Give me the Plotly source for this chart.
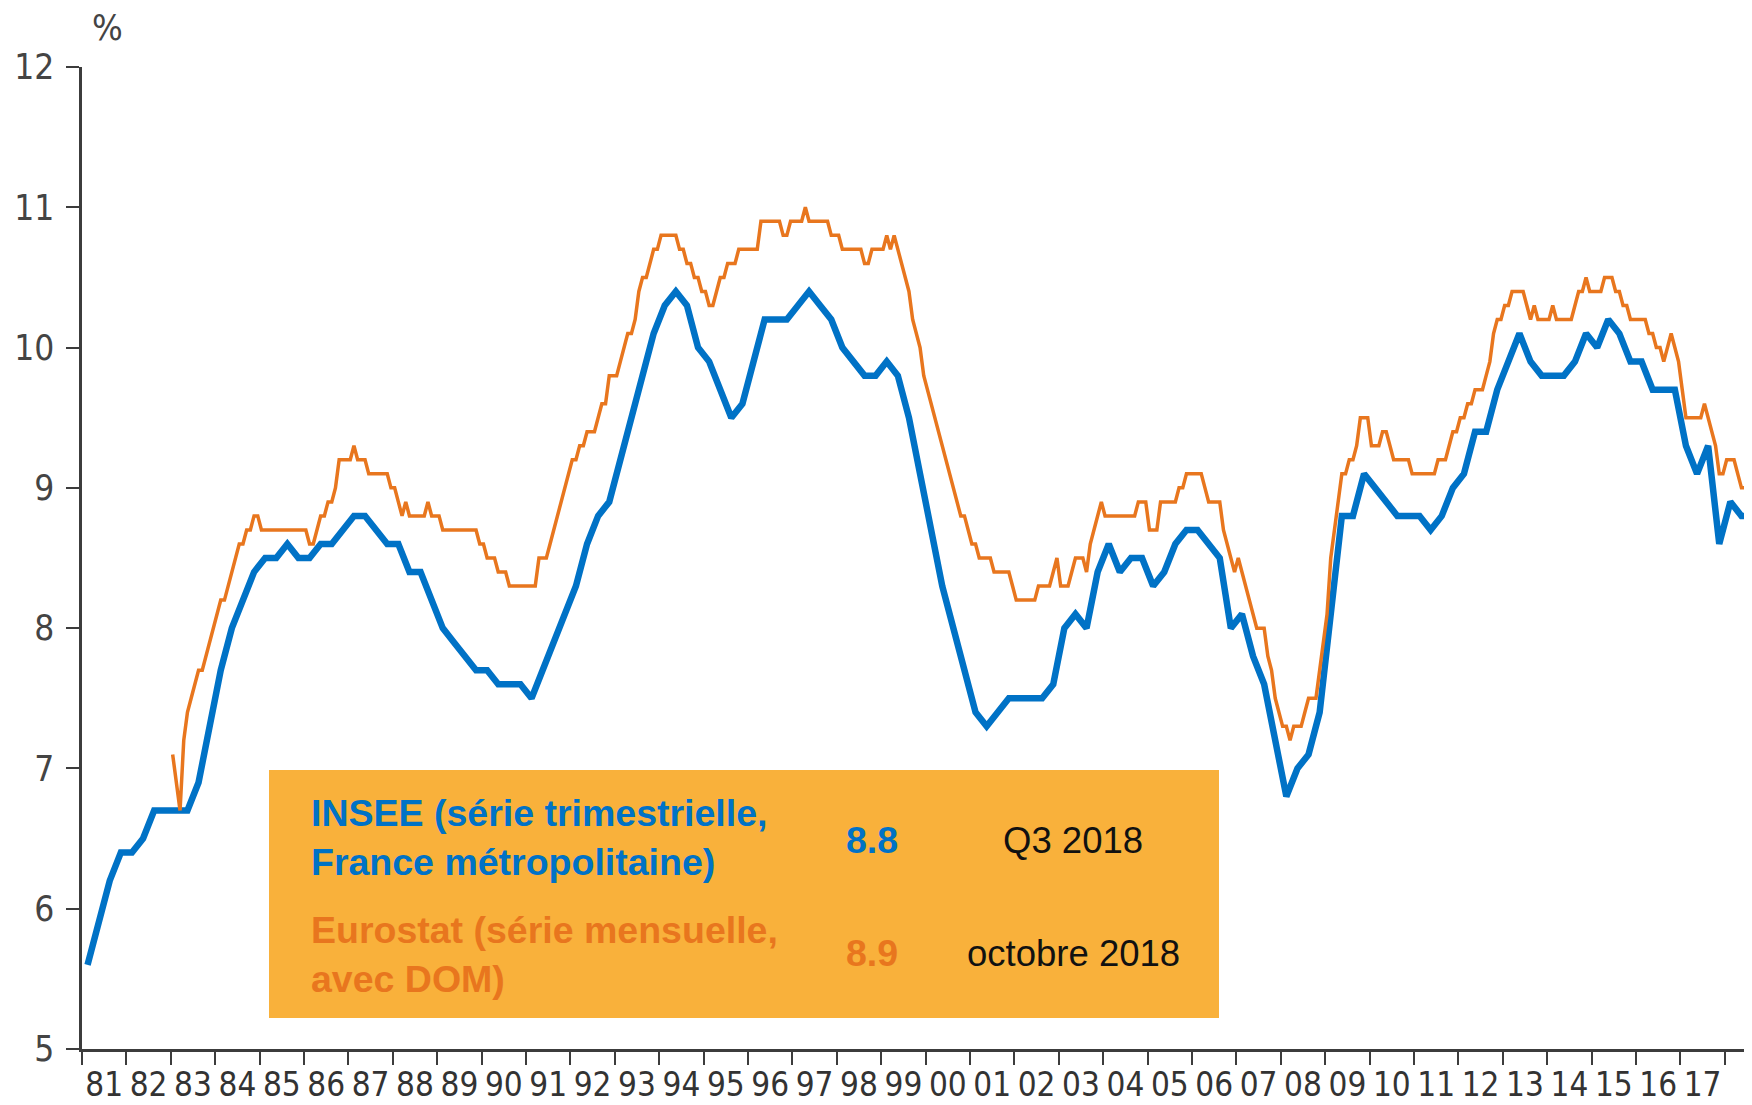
import plotly.graph_objects as go

# ---------------- data ----------------
# INSEE, quarterly, France métropolitaine, from 1981 Q1 to 2018 Q3
insee_start_year = 1981
insee_rate = [
    5.6, 5.9, 6.2, 6.4,      # 1981
    6.4, 6.5, 6.7, 6.7,      # 1982
    6.7, 6.7, 6.9, 7.3,      # 1983
    7.7, 8.0, 8.2, 8.4,      # 1984
    8.5, 8.5, 8.6, 8.5,      # 1985
    8.5, 8.6, 8.6, 8.7,      # 1986
    8.8, 8.8, 8.7, 8.6,      # 1987
    8.6, 8.4, 8.4, 8.2,      # 1988
    8.0, 7.9, 7.8, 7.7,      # 1989
    7.7, 7.6, 7.6, 7.6,      # 1990
    7.5, 7.7, 7.9, 8.1,      # 1991
    8.3, 8.6, 8.8, 8.9,      # 1992
    9.2, 9.5, 9.8, 10.1,     # 1993
    10.3, 10.4, 10.3, 10.0,  # 1994
    9.9, 9.7, 9.5, 9.6,      # 1995
    9.9, 10.2, 10.2, 10.2,   # 1996
    10.3, 10.4, 10.3, 10.2,  # 1997
    10.0, 9.9, 9.8, 9.8,     # 1998
    9.9, 9.8, 9.5, 9.1,      # 1999
    8.7, 8.3, 8.0, 7.7,      # 2000
    7.4, 7.3, 7.4, 7.5,      # 2001
    7.5, 7.5, 7.5, 7.6,      # 2002
    8.0, 8.1, 8.0, 8.4,      # 2003
    8.6, 8.4, 8.5, 8.5,      # 2004
    8.3, 8.4, 8.6, 8.7,      # 2005
    8.7, 8.6, 8.5, 8.0,      # 2006
    8.1, 7.8, 7.6, 7.2,      # 2007
    6.8, 7.0, 7.1, 7.4,      # 2008
    8.1, 8.8, 8.8, 9.1,      # 2009
    9.0, 8.9, 8.8, 8.8,      # 2010
    8.8, 8.7, 8.8, 9.0,      # 2011
    9.1, 9.4, 9.4, 9.7,      # 2012
    9.9, 10.1, 9.9, 9.8,     # 2013
    9.8, 9.8, 9.9, 10.1,     # 2014
    10.0, 10.2, 10.1, 9.9,   # 2015
    9.9, 9.7, 9.7, 9.7,      # 2016
    9.3, 9.1, 9.3, 8.6,      # 2017
    8.9, 8.8, 8.8,           # 2018
]

# Eurostat, monthly, with DOM, from January 1983 to October 2018
eurostat_start_year = 1983
eurostat_rate = [
    7.1, 6.9, 6.7, 7.2, 7.4, 7.5, 7.6, 7.7, 7.7, 7.8, 7.9, 8.0,              # 1983
    8.1, 8.2, 8.2, 8.3, 8.4, 8.5, 8.6, 8.6, 8.7, 8.7, 8.8, 8.8,              # 1984
    8.7, 8.7, 8.7, 8.7, 8.7, 8.7, 8.7, 8.7, 8.7, 8.7, 8.7, 8.7,              # 1985
    8.7, 8.6, 8.6, 8.7, 8.8, 8.8, 8.9, 8.9, 9.0, 9.2, 9.2, 9.2,              # 1986
    9.2, 9.3, 9.2, 9.2, 9.2, 9.1, 9.1, 9.1, 9.1, 9.1, 9.1, 9.0,              # 1987
    9.0, 8.9, 8.8, 8.9, 8.8, 8.8, 8.8, 8.8, 8.8, 8.9, 8.8, 8.8,              # 1988
    8.8, 8.7, 8.7, 8.7, 8.7, 8.7, 8.7, 8.7, 8.7, 8.7, 8.7, 8.6,              # 1989
    8.6, 8.5, 8.5, 8.5, 8.4, 8.4, 8.4, 8.3, 8.3, 8.3, 8.3, 8.3,              # 1990
    8.3, 8.3, 8.3, 8.5, 8.5, 8.5, 8.6, 8.7, 8.8, 8.9, 9.0, 9.1,              # 1991
    9.2, 9.2, 9.3, 9.3, 9.4, 9.4, 9.4, 9.5, 9.6, 9.6, 9.8, 9.8,              # 1992
    9.8, 9.9, 10.0, 10.1, 10.1, 10.2, 10.4, 10.5, 10.5, 10.6, 10.7, 10.7,    # 1993
    10.8, 10.8, 10.8, 10.8, 10.8, 10.7, 10.7, 10.6, 10.6, 10.5, 10.5, 10.4,  # 1994
    10.4, 10.3, 10.3, 10.4, 10.5, 10.5, 10.6, 10.6, 10.6, 10.7, 10.7, 10.7,  # 1995
    10.7, 10.7, 10.7, 10.9, 10.9, 10.9, 10.9, 10.9, 10.9, 10.8, 10.8, 10.9,  # 1996
    10.9, 10.9, 10.9, 11.0, 10.9, 10.9, 10.9, 10.9, 10.9, 10.9, 10.8, 10.8,  # 1997
    10.8, 10.7, 10.7, 10.7, 10.7, 10.7, 10.7, 10.6, 10.6, 10.7, 10.7, 10.7,  # 1998
    10.7, 10.8, 10.7, 10.8, 10.7, 10.6, 10.5, 10.4, 10.2, 10.1, 10.0, 9.8,   # 1999
    9.7, 9.6, 9.5, 9.4, 9.3, 9.2, 9.1, 9.0, 8.9, 8.8, 8.8, 8.7,              # 2000
    8.6, 8.6, 8.5, 8.5, 8.5, 8.5, 8.4, 8.4, 8.4, 8.4, 8.4, 8.3,              # 2001
    8.2, 8.2, 8.2, 8.2, 8.2, 8.2, 8.3, 8.3, 8.3, 8.3, 8.4, 8.5,              # 2002
    8.3, 8.3, 8.3, 8.4, 8.5, 8.5, 8.5, 8.4, 8.6, 8.7, 8.8, 8.9,              # 2003
    8.8, 8.8, 8.8, 8.8, 8.8, 8.8, 8.8, 8.8, 8.8, 8.9, 8.9, 8.9,              # 2004
    8.7, 8.7, 8.7, 8.9, 8.9, 8.9, 8.9, 8.9, 9.0, 9.0, 9.1, 9.1,              # 2005
    9.1, 9.1, 9.1, 9.0, 8.9, 8.9, 8.9, 8.9, 8.7, 8.6, 8.5, 8.4,              # 2006
    8.5, 8.4, 8.3, 8.2, 8.1, 8.0, 8.0, 8.0, 7.8, 7.7, 7.5, 7.4,              # 2007
    7.3, 7.3, 7.2, 7.3, 7.3, 7.3, 7.4, 7.5, 7.5, 7.5, 7.7, 7.9,              # 2008
    8.1, 8.5, 8.7, 8.9, 9.1, 9.1, 9.2, 9.2, 9.3, 9.5, 9.5, 9.5,              # 2009
    9.3, 9.3, 9.3, 9.4, 9.4, 9.3, 9.2, 9.2, 9.2, 9.2, 9.2, 9.1,              # 2010
    9.1, 9.1, 9.1, 9.1, 9.1, 9.1, 9.2, 9.2, 9.2, 9.3, 9.4, 9.4,              # 2011
    9.5, 9.5, 9.6, 9.6, 9.7, 9.7, 9.7, 9.8, 9.9, 10.1, 10.2, 10.2,           # 2012
    10.3, 10.3, 10.4, 10.4, 10.4, 10.4, 10.3, 10.2, 10.3, 10.2, 10.2, 10.2,  # 2013
    10.2, 10.3, 10.2, 10.2, 10.2, 10.2, 10.2, 10.3, 10.4, 10.4, 10.5, 10.4,  # 2014
    10.4, 10.4, 10.4, 10.5, 10.5, 10.5, 10.4, 10.4, 10.3, 10.3, 10.2, 10.2,  # 2015
    10.2, 10.2, 10.2, 10.1, 10.1, 10.0, 10.0, 9.9, 10.0, 10.1, 10.0, 9.9,    # 2016
    9.7, 9.5, 9.5, 9.5, 9.5, 9.5, 9.6, 9.5, 9.4, 9.3, 9.1, 9.1,              # 2017
    9.2, 9.2, 9.2, 9.1, 9.0, 9.0, 9.0, 9.0, 9.0, 8.9,                        # 2018
]

tick_years = list(range(1981, 2019))          # year boundaries (tick marks)
label_years = list(range(1981, 2018))         # labelled years
year_labels = [f"{y % 100:02d}" for y in label_years]
y_ticks = [5, 6, 7, 8, 9, 10, 11, 12]

legend_names = [["INSEE (série trimestrielle,", "France métropolitaine)"],
                ["Eurostat (série mensuelle,", "avec DOM)"]]
legend_values = ["8.8", "8.9"]
legend_dates = ["Q3 2018", "octobre 2018"]

# ---------------- styling ----------------
PAGE_OFFSET = 8                     # default body margin of the html page
W, H = 1752 - PAGE_OFFSET, 1105 - PAGE_OFFSET
ML, MR, MT, MB = 82 - PAGE_OFFSET, 0, 67 - PAGE_OFFSET, H - (1049 - PAGE_OFFSET)
BLUE = "#0072C6"
ORANGE = "#E8761E"
BOX = "#F9B13B"
AXIS = "#3C3C3C"
NARROW = "Liberation Sans Narrow, DejaVu Sans Condensed, sans-serif"
SANS = "Liberation Sans, Arial, sans-serif"
X_END = 1981 + (W - ML - MR) / 44.4

# decimal-year positions (mid-quarter / mid-month)
insee_x = [insee_start_year + (i + 0.5) / 4 for i in range(len(insee_rate))]
eurostat_x = [eurostat_start_year + (i + 0.5) / 12 for i in range(len(eurostat_rate))]


def paper(px, py):
    """convert a pixel position in the page to paper coordinates"""
    fx, fy = px - PAGE_OFFSET, py - PAGE_OFFSET
    return (fx - ML) / (W - ML - MR), (H - MB - fy) / (H - MT - MB)


fig = go.Figure()
fig.add_trace(go.Scatter(x=insee_x, y=insee_rate, mode="lines",
                         line=dict(color=BLUE, width=6.5), name="INSEE"))
fig.add_trace(go.Scatter(x=eurostat_x, y=eurostat_rate, mode="lines",
                         line=dict(color=ORANGE, width=3.5), name="Eurostat"))

# legend box
bx0, by0 = paper(269, 770)
bx1, by1 = paper(1219, 1018)
fig.add_shape(type="rect", xref="paper", yref="paper", x0=bx0, x1=bx1, y0=by1, y1=by0,
              fillcolor=BOX, line=dict(width=0), layer="below")

colors = [BLUE, ORANGE]
name_y = [(813, 862), (930, 979)]
value_y = [840, 953]
for i in range(len(legend_names)):
    for j, txt in enumerate(legend_names[i]):
        ax, ay = paper(309, name_y[i][j])
        fig.add_annotation(x=ax, y=ay, xref="paper", yref="paper", text=f"<b>{txt}</b>",
                           showarrow=False, xanchor="left", yanchor="middle",
                           font=dict(family=SANS, size=37.5, color=colors[i]))
    vx, vy = paper(872, value_y[i])
    fig.add_annotation(x=vx, y=vy, xref="paper", yref="paper", text=f"<b>{legend_values[i]}</b>",
                       showarrow=False, xanchor="center", yanchor="middle",
                       font=dict(family=SANS, size=37.5, color=colors[i]))
    dx, dy = paper(1073, value_y[i])
    fig.add_annotation(x=dx, y=dy, xref="paper", yref="paper", text=legend_dates[i],
                       showarrow=False, xanchor="center", yanchor="middle",
                       font=dict(family=SANS, size=36.5, color="#111111"))

# % unit label
ux, uy = paper(107, 28)
fig.add_annotation(x=ux, y=uy, xref="paper", yref="paper", text="%", showarrow=False,
                   xanchor="center", yanchor="middle",
                   font=dict(family=NARROW, size=36, color="#444444"))

fig.update_layout(
    width=W, height=H,
    margin=dict(l=ML, r=MR, t=MT, b=MB, pad=0),
    paper_bgcolor="white", plot_bgcolor="white",
    showlegend=False,
    xaxis=dict(
        range=[1981, X_END], showgrid=False, zeroline=False, automargin=False,
        showline=True, linecolor=AXIS, linewidth=2.5,
        tickmode="array", tickvals=[y + 0.5 for y in label_years], ticktext=year_labels,
        ticks="", tickangle=0, ticklabelstandoff=5,
        tickfont=dict(family=NARROW, size=33, color="#333333"),
        minor=dict(tickmode="array", tickvals=tick_years, ticks="outside",
                   ticklen=13, tickwidth=2, tickcolor=AXIS, showgrid=False),
    ),
    yaxis=dict(
        range=[5, 12], showgrid=False, zeroline=False, automargin=False,
        showline=True, linecolor=AXIS, linewidth=2.5,
        tickmode="array", tickvals=y_ticks, ticks="outside", ticklen=13,
        tickwidth=2, tickcolor=AXIS, ticklabelstandoff=5,
        tickfont=dict(family=NARROW, size=35, color="#444444"),
    ),
)

fig.write_html("out.html")
